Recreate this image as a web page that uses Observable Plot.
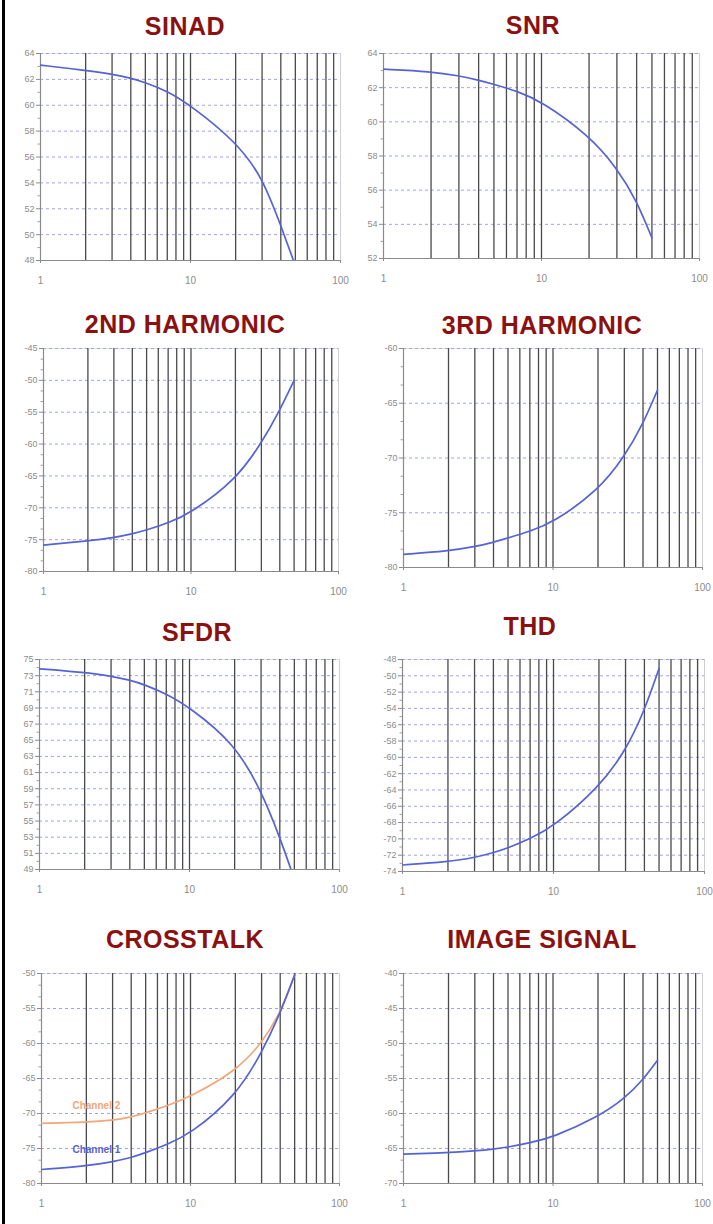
<!DOCTYPE html>
<html><head><meta charset="utf-8">
<script src="https://cdn.jsdelivr.net/npm/d3@7"></script>
<script src="https://cdn.jsdelivr.net/npm/@observablehq/plot@0.6"></script>
<style>
body{margin:0;background:#fff;}
#page{position:relative;width:713px;height:1224px;overflow:hidden;background:#fff;}
#page .border{position:absolute;left:2px;top:0;width:3px;height:1224px;background:#000;}
.title{position:absolute;width:340px;text-align:center;font:bold 25px "Liberation Sans",Arial,sans-serif;letter-spacing:0.5px;color:#8b1111;line-height:26px;white-space:nowrap;}
.panel{position:absolute;}
</style></head><body><div id="page"><div class="border"></div></div>
<script>
// ---- data ----
const freq = [1, 2, 3, 4, 5, 7, 10, 20, 30, 40, 50];
const sinadDb = [63.1, 62.7, 62.4, 62.1, 61.75, 61.1, 60.0, 57.2, 54.5, 50.7, 47.6];
const snrDb = [63.08, 62.95, 62.7, 62.44, 62.2, 61.8, 61.2, 59.2, 57.3, 55.4, 53.2];
const harm2Db = [-75.85, -75.2, -74.7, -74.1, -73.5, -72.4, -70.8, -65.7, -59.9, -54.7, -50.0];
const harm3Db = [-78.8, -78.5, -78.1, -77.7, -77.3, -76.7, -75.9, -73.0, -69.9, -66.9, -63.8];
const sfdrDb = [73.85, 73.4, 72.95, 72.45, 71.9, 70.75, 69.1, 64.6, 58.8, 53.0, 47.8];
const thdDb = [-73.2, -72.8, -72.3, -71.7, -71.1, -70.0, -68.5, -63.7, -59.2, -54.3, -49.1];
const crosstalkCh1Db = [-78.0, -77.5, -76.9, -76.3, -75.6, -74.4, -72.9, -67.6, -61.4, -55.7, -50.2];
const crosstalkCh2Db = [-71.4, -71.25, -71.0, -70.5, -69.9, -68.9, -67.6, -64.0, -60.0, -55.7, -50.2];
const imageDb = [-65.8, -65.6, -65.35, -65.1, -64.8, -64.2, -63.4, -60.5, -57.9, -55.2, -52.4];

const titles = ["SINAD", "SNR", "2ND HARMONIC", "3RD HARMONIC", "SFDR", "THD", "CROSSTALK", "IMAGE SIGNAL"];
const seriesNames = ["Channel 1", "Channel 2"];

const sinadTicks = [48, 50, 52, 54, 56, 58, 60, 62, 64];
const snrTicks = [52, 54, 56, 58, 60, 62, 64];
const harm2Ticks = [-80, -75, -70, -65, -60, -55, -50, -45];
const harm3Ticks = [-80, -75, -70, -65, -60];
const sfdrTicks = [49, 51, 53, 55, 57, 59, 61, 63, 65, 67, 69, 71, 73, 75];
const thdTicks = [-74, -72, -70, -68, -66, -64, -62, -60, -58, -56, -54, -52, -50, -48];
const crosstalkTicks = [-80, -75, -70, -65, -60, -55, -50];
const imageTicks = [-70, -65, -60, -55, -50, -45, -40];

const xTickLabels = [1, 10, 100];
const xGrid = [2, 3, 4, 5, 6, 7, 8, 9, 10, 20, 30, 40, 50, 60, 70, 80, 90];

// ---- styles ----
const BLUE = "#5563d6", ORANGE = "#f2a679";
const FONT = "'Liberation Sans', Arial, sans-serif";

function minorTicks(ticks, n) {
  const out = [];
  for (let i = 0; i < ticks.length - 1; i++) {
    const step = (ticks[i + 1] - ticks[i]) / (n + 1);
    for (let k = 1; k <= n; k++) out.push(ticks[i] + step * k);
  }
  return out;
}

const panels = [
  {title: titles[0], ticks: sinadTicks, minor: 1, series: [{v: sinadDb, c: BLUE}], left: 0, width: 350, plotLeft: 40, plotRight: 340, plotTop: 53, plotBottom: 260, tcx: 185, tcy: 25},
  {title: titles[1], ticks: snrTicks, minor: 1, series: [{v: snrDb, c: BLUE}], left: 350, width: 363, plotLeft: 383, plotRight: 699, plotTop: 53, plotBottom: 258, tcx: 533, tcy: 24},
  {title: titles[2], ticks: harm2Ticks, minor: 2, series: [{v: harm2Db, c: BLUE}], left: 0, width: 350, plotLeft: 43, plotRight: 338, plotTop: 348, plotBottom: 571, tcx: 185, tcy: 323},
  {title: titles[3], ticks: harm3Ticks, minor: 2, series: [{v: harm3Db, c: BLUE}], left: 350, width: 363, plotLeft: 403, plotRight: 702, plotTop: 348, plotBottom: 567, tcx: 542, tcy: 324},
  {title: titles[4], ticks: sfdrTicks, minor: 1, series: [{v: sfdrDb, c: BLUE}], left: 0, width: 350, plotLeft: 39, plotRight: 339, plotTop: 659, plotBottom: 869, tcx: 197, tcy: 631},
  {title: titles[5], ticks: thdTicks, minor: 1, series: [{v: thdDb, c: BLUE}], left: 350, width: 363, plotLeft: 402, plotRight: 704, plotTop: 659, plotBottom: 871, tcx: 530, tcy: 625},
  {title: titles[6], ticks: crosstalkTicks, minor: 2, series: [{v: crosstalkCh2Db, c: ORANGE, name: seriesNames[1]}, {v: crosstalkCh1Db, c: BLUE, name: seriesNames[0]}], left: 0, width: 350, plotLeft: 41, plotRight: 339, plotTop: 973, plotBottom: 1183, tcx: 185, tcy: 938},
  {title: titles[7], ticks: imageTicks, minor: 2, series: [{v: imageDb, c: BLUE}], left: 350, width: 363, plotLeft: 403, plotRight: 702, plotTop: 973, plotBottom: 1183, tcx: 542, tcy: 938}
];

const page = document.getElementById("page");

for (const p of panels) {
  const t = document.createElement("div");
  t.className = "title";
  t.textContent = p.title;
  t.style.left = (p.tcx - 170) + "px";
  t.style.top = (p.tcy - 12) + "px";
  page.appendChild(t);

  const mt = 13, mb = 30;
  const yMin = d3.min(p.ticks), yMax = d3.max(p.ticks);
  const marks = [
    Plot.ruleY([yMax], {stroke: "#e2e2e2"}),
    Plot.ruleX([100], {stroke: "#cfcfcf"}),
    Plot.ruleY(p.ticks, {stroke: "#9ea4ea", strokeDasharray: "3,3", strokeWidth: 1}),
    Plot.ruleX(xGrid, {stroke: "#4a4a4a", strokeWidth: 1.3}),
    Plot.ruleX([1], {stroke: "#8a8a8a", strokeWidth: 1.2}),
    Plot.ruleY([yMin], {stroke: "#8a8a8a", strokeWidth: 1.2}),
    Plot.axisY(p.ticks, {tickSize: 4, tickPadding: 2, fontSize: 9, color: "#8c8c8c", label: null, tickFormat: d => String(d)}),
    Plot.axisY(minorTicks(p.ticks, p.minor), {tickSize: 2.5, color: "#a0a0a0", label: null, tickFormat: () => ""}),
    Plot.axisX(xTickLabels, {tickSize: 3, tickPadding: 13, fontSize: 10, color: "#8c8c8c", label: null, tickFormat: d => String(d)})
  ];
  for (const s of p.series) {
    const rows = freq.map((f, i) => ({f, v: s.v[i]}));
    marks.push(Plot.line(rows, {x: "f", y: "v", stroke: s.c, strokeWidth: 1.7, curve: "basis", clip: true}));
    if (s.name) {
      marks.push(Plot.text([rows[1]], {x: "f", y: "v", text: () => s.name, dx: 10, dy: -16, fill: s.c, fontSize: 10, fontWeight: "bold", style: "letter-spacing:1.6px"}));
    }
  }
  const chart = Plot.plot({
    width: p.width,
    height: p.plotBottom - p.plotTop + mt + mb,
    marginLeft: p.plotLeft - p.left,
    marginRight: p.left + p.width - p.plotRight,
    marginTop: mt,
    marginBottom: mb,
    x: {type: "log", domain: [1, 100], label: null},
    y: {domain: [yMin, yMax], label: null},
    style: {fontFamily: FONT, background: "transparent", overflow: "visible"},
    marks
  });
  const wrap = document.createElement("div");
  wrap.className = "panel";
  wrap.style.left = p.left + "px";
  wrap.style.top = (p.plotTop - mt) + "px";
  wrap.appendChild(chart);
  page.appendChild(wrap);
}
</script>
</body></html>
